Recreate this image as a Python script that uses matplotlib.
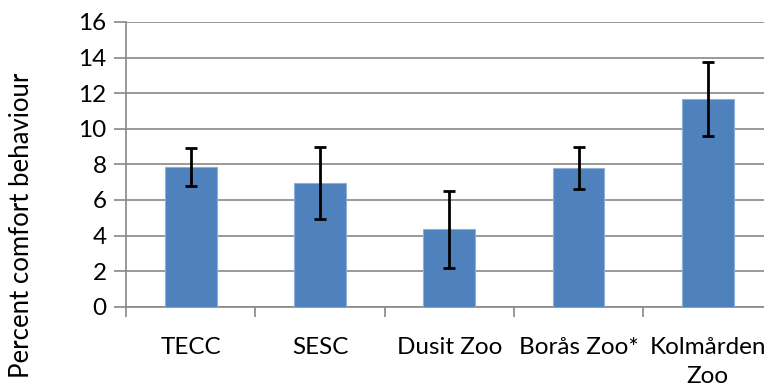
import matplotlib
matplotlib.use("Agg")
import matplotlib.pyplot as plt
import numpy as np

categories = ["TECC", "SESC", "Dusit Zoo", "Borås Zoo*", "Kolmården\nZoo"]
values = [7.83, 6.95, 4.35, 7.80, 11.67]
errors = [1.07, 2.00, 2.17, 1.19, 2.10]
yticks = [0, 2, 4, 6, 8, 10, 12, 14, 16]

plt.rcParams['font.family'] = ['Lato', 'DejaVu Sans']

W, H = 764, 392
fig = plt.figure(figsize=(W/100, H/100), dpi=100)
left, right, top, bottom = 126, 126 + 5*129.3, 22, 306.7
ax = fig.add_axes([left/W, 1 - bottom/H, (right-left)/W, (bottom-top)/H])

x = np.arange(len(categories))
ax.bar(x, values, width=0.4, color="#4F81BD", edgecolor="#8EB0D8", linewidth=0.8, zorder=3)
ax.errorbar(x, values, yerr=errors, fmt="none", ecolor="black", elinewidth=2,
            capsize=4.5, capthick=2, zorder=4)

ax.set_xlim(-0.5, len(categories) - 0.5)
ax.set_ylim(0, 16)
ax.set_yticks(yticks)
ax.set_yticklabels([str(t) for t in yticks], fontsize=17.5)
ax.yaxis.grid(True, color="#888888", linewidth=1.2, zorder=0)
ax.set_axisbelow(True)

ax.set_xticks(x)
ax.set_xticklabels(categories, fontsize=17.5, linespacing=1.45)
ax.tick_params(axis="x", length=0, pad=22)
ax.set_xticks(np.arange(-0.5, len(categories)), minor=True)
ax.tick_params(axis="x", which="minor", length=7, width=1.2, color="#888888")
ax.tick_params(axis="y", length=9, width=1.2, color="#888888", pad=5)

for s in ["top", "right"]:
    ax.spines[s].set_visible(False)
for s in ["left", "bottom"]:
    ax.spines[s].set_color("#888888")
    ax.spines[s].set_linewidth(1.2)

fig.text(22/W, 1 - 225/H, "Percent comfort behaviour", rotation=90, fontsize=18.5,
         ha="center", va="center")

fig.savefig("out.png", dpi=100)
